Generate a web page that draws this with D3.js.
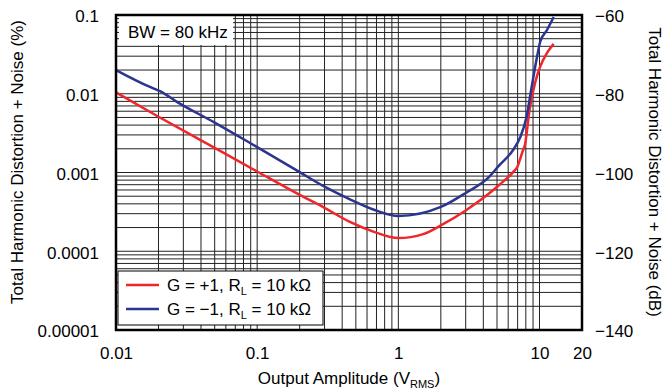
<!DOCTYPE html>
<html>
<head>
<meta charset="utf-8">
<script src="https://cdn.jsdelivr.net/npm/d3@7"></script>
<style>
  body { margin: 0; background: #fff; }
  svg text { font-family: "Liberation Sans", Arial, sans-serif; fill: #000; }
</style>
</head>
<body>
<svg id="chart" width="665" height="392"></svg>
<script>
// tick labels
const xTicks = [0.01, 0.1, 1, 10, 20];
const xTickLabels = ["0.01", "0.1", "1", "10", "20"];
const yTicks = [0.1, 0.01, 0.001, 0.0001, 0.00001];
const yTickLabels = ["0.1", "0.01", "0.001", "0.0001", "0.00001"];
const dbTicks = [-60, -80, -100, -120, -140];

// G = +1, RL = 10k
const ampRed = [0.01, 0.02, 0.05, 0.1, 0.2, 0.3, 0.45, 0.68, 1.0, 1.5, 2.0, 3.0, 4.5, 5.2, 6.5, 7.0, 7.3, 7.6, 7.9, 8.5, 9.3, 10.1, 11.3, 12.6];
const thdRed = [0.0104, 0.0051, 0.00205, 0.00103, 0.00052, 0.000356, 0.000237, 0.000175, 0.000147, 0.000165, 0.000213, 0.00033, 0.00056, 0.0007, 0.00101, 0.0012, 0.00149, 0.00187, 0.00229, 0.0062, 0.0137, 0.022, 0.033, 0.043];

// G = -1, RL = 10k
const ampBlue = [0.01, 0.0174, 0.0205, 0.027, 0.05, 0.089, 0.2, 0.3, 0.45, 0.68, 1.0, 2.0, 3.0, 4.4, 5.2, 6.5, 7.3, 8.1, 8.8, 9.6, 10.1, 11.3, 12.6];
const thdBlue = [0.020, 0.0122, 0.0108, 0.0079, 0.0043, 0.00237, 0.00101, 0.00066, 0.00046, 0.000334, 0.00028, 0.000365, 0.00055, 0.00088, 0.00124, 0.00193, 0.0028, 0.0051, 0.0122, 0.0293, 0.0454, 0.0645, 0.0943];

const margin = {top: 15, right: 83, bottom: 62, left: 116};
const width = 665 - margin.left - margin.right;
const height = 392 - margin.top - margin.bottom;

const svg = d3.select("#chart");
const g = svg.append("g").attr("transform", `translate(${margin.left},${margin.top})`);

const x = d3.scaleLog().domain([0.01, 20]).range([0, width]);
const y = d3.scaleLog().domain([0.00001, 0.1]).range([height, 0]);
const yDb = d3.scaleLinear().domain([-140, -60]).range([height, 0]);

// grid
g.append("g")
    .selectAll("line")
    .data(x.ticks().filter(d => d < 19))
    .join("line")
    .attr("x1", d => x(d)).attr("x2", d => x(d))
    .attr("y1", 0).attr("y2", height)
    .attr("stroke", "#222").attr("stroke-width", 1);

g.append("g")
    .selectAll("line")
    .data(y.ticks())
    .join("line")
    .attr("x1", 0).attr("x2", width)
    .attr("y1", d => y(d)).attr("y2", d => y(d))
    .attr("stroke", "#222").attr("stroke-width", 1);

// BW note
g.append("rect")
    .attr("x", 3).attr("y", 1).attr("width", 114).attr("height", 29)
    .attr("fill", "#fff");
g.append("text")
    .attr("x", 12).attr("y", 23)
    .attr("font-size", 17)
    .text("BW = 80 kHz");

// curves
const line = d3.line()
    .x(d => x(d[0]))
    .y(d => y(d[1]))
    .curve(d3.curveMonotoneX);

const redData = ampRed.map((a, i) => [a, thdRed[i]]);
const blueData = ampBlue.map((a, i) => [a, thdBlue[i]]);

g.append("path").datum(redData)
    .attr("d", line).attr("fill", "none")
    .attr("stroke", "#f0262b").attr("stroke-width", 2.5);
g.append("path").datum(blueData)
    .attr("d", line).attr("fill", "none")
    .attr("stroke", "#2b3590").attr("stroke-width", 2.5);

// legend
const legend = g.append("g").attr("transform", `translate(2,${height - 59})`);
legend.append("rect")
    .attr("width", 205).attr("height", 54)
    .attr("fill", "#fff").attr("stroke", "#000").attr("stroke-width", 1);
const legendItems = [
    {sign: "+1", color: "#f0262b"},
    {sign: "\u22121", color: "#2b3590"}
];
legendItems.forEach((item, i) => {
    const ly = 14 + i * 24;
    legend.append("line")
        .attr("x1", 8).attr("x2", 41).attr("y1", ly).attr("y2", ly)
        .attr("stroke", item.color).attr("stroke-width", 2.5);
    const t = legend.append("text")
        .attr("x", 49).attr("y", ly + 6)
        .attr("font-size", 17);
    t.append("tspan").text(`G = ${item.sign}, R`);
    t.append("tspan").attr("font-size", 11).attr("dy", 4).text("L");
    t.append("tspan").attr("dy", -4).text(" = 10 k\u03A9");
});

// frame
g.append("rect")
    .attr("width", width).attr("height", height)
    .attr("fill", "none").attr("stroke", "#000").attr("stroke-width", 2.5);

// left axis
const yAxis = d3.axisLeft(y)
    .tickValues(yTicks)
    .tickFormat((d, i) => yTickLabels[i])
    .tickSize(0).tickPadding(17);
g.append("g").call(yAxis)
    .call(a => a.select(".domain").remove())
    .selectAll("text")
    .attr("font-size", 17).attr("dy", "0.4em");

// right axis
const dbAxis = d3.axisRight(yDb)
    .tickValues(dbTicks)
    .tickFormat(d => d < 0 ? "\u2212" + Math.abs(d) : d)
    .tickSize(0).tickPadding(13);
g.append("g").attr("transform", `translate(${width},0)`).call(dbAxis)
    .call(a => a.select(".domain").remove())
    .selectAll("text")
    .attr("font-size", 17).attr("dy", "0.4em");

// bottom axis
const xAxis = d3.axisBottom(x)
    .tickValues(xTicks)
    .tickFormat((d, i) => xTickLabels[i])
    .tickSize(0).tickPadding(17);
g.append("g").attr("transform", `translate(0,${height})`).call(xAxis)
    .call(a => a.select(".domain").remove())
    .selectAll("text")
    .attr("font-size", 17);

// axis titles
const xTitle = svg.append("text")
    .attr("x", 349).attr("y", 384)
    .attr("text-anchor", "middle")
    .attr("font-size", 17);
xTitle.append("tspan").text("Output Amplitude (V");
xTitle.append("tspan").attr("font-size", 11).attr("dy", 4).text("RMS");
xTitle.append("tspan").attr("dy", -4).text(")");

svg.append("text")
    .attr("transform", "translate(23,162) rotate(-90)")
    .attr("text-anchor", "middle")
    .attr("font-size", 17)
    .text("Total Harmonic Distortion + Noise (%)");

svg.append("text")
    .attr("transform", "translate(649,172) rotate(90)")
    .attr("text-anchor", "middle")
    .attr("font-size", 17)
    .text("Total Harmonic Distortion + Noise (dB)");
</script>
</body>
</html>
